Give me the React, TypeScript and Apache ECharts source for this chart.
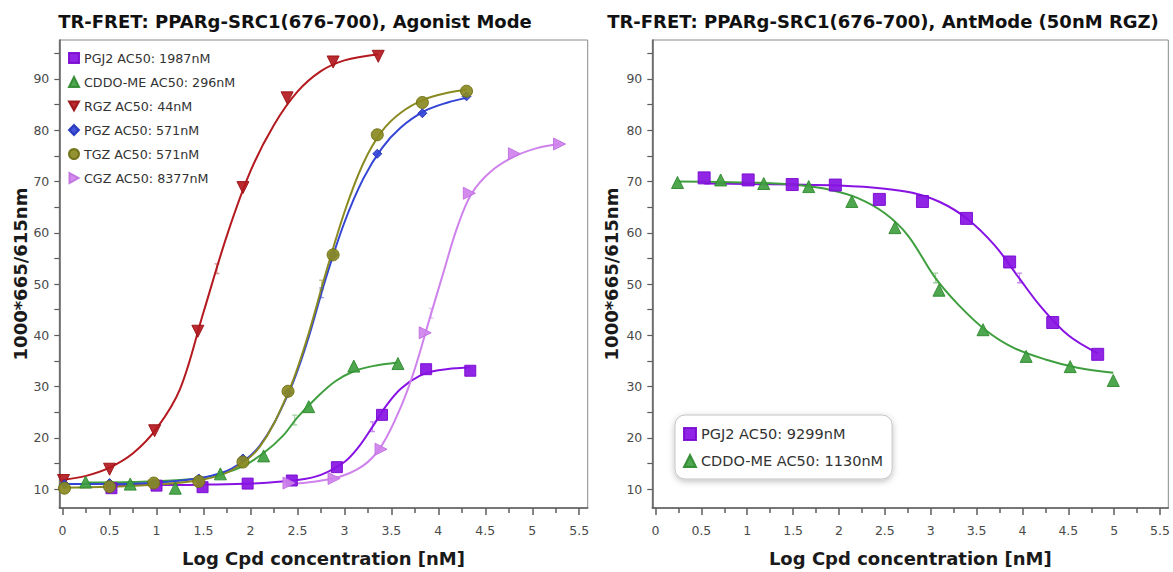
import React, { useEffect, useRef } from "react";
import * as echarts from "echarts";

const FONT = '"DejaVu Sans", "Open Sans", sans-serif';

// ---------- texts ----------
const leftTitle = "TR-FRET: PPARg-SRC1(676-700), Agonist Mode";
const rightTitle = "TR-FRET: PPARg-SRC1(676-700), AntMode (50nM RGZ)";
const xAxisTitle = "Log Cpd concentration [nM]";
const yAxisTitle = "1000*665/615nm";

// ---------- tick values ----------
const xLabelTicks = [0, 0.5, 1, 1.5, 2, 2.5, 3, 3.5, 4, 4.5, 5, 5.5];
const xMinorTicks = [0.25, 0.75, 1.25, 1.75, 2.25, 2.75, 3.25, 3.75, 4.25, 4.75, 5.25];
const yLabelTicks = [10, 20, 30, 40, 50, 60, 70, 80, 90];
const yTicks = [10, 15, 20, 25, 30, 35, 40, 45, 50, 55, 60, 65, 70, 75, 80, 85, 90, 95];

// ---------- left panel: agonist mode ----------
const leftNames = [
  "PGJ2 AC50: 1987nM",
  "CDDO-ME AC50: 296nM",
  "RGZ AC50: 44nM",
  "PGZ AC50: 571nM",
  "TGZ AC50: 571nM",
  "CGZ AC50: 8377nM",
];

const pgj2X = [0.52, 1.0, 1.49, 1.97, 2.44, 2.92, 3.4, 3.87, 4.34];
const pgj2Y = [10.2, 10.7, 10.4, 11.1, 11.7, 14.3, 24.5, 33.4, 33.1];
const cddoX = [0.245, 0.72, 1.2, 1.68, 2.14, 2.62, 3.1, 3.57];
const cddoY = [11.4, 11.0, 10.2, 13.0, 16.5, 26.1, 34.0, 34.5];
const rgzX = [0.01, 0.5, 0.98, 1.44, 1.92, 2.39, 2.88, 3.36];
const rgzY = [11.7, 13.9, 21.4, 40.8, 68.8, 86.3, 93.3, 94.4];
const pgzX = [0.02, 0.5, 0.97, 1.45, 1.92, 2.4, 2.88, 3.35, 3.83, 4.3];
const pgzY = [11.0, 11.2, 11.2, 12.1, 16.0, 28.8, 55.7, 75.4, 83.3, 86.6];
const tgzX = [0.02, 0.5, 0.97, 1.45, 1.92, 2.4, 2.88, 3.35, 3.83, 4.3];
const tgzY = [10.2, 10.5, 11.2, 11.5, 15.3, 29.1, 55.7, 79.1, 85.4, 87.6];
const cgzX = [2.41, 2.89, 3.39, 3.86, 4.33, 4.81, 5.29];
const cgzY = [11.2, 12.1, 17.8, 40.5, 67.7, 75.4, 77.3];

// fitted curves
const pgj2FitX = [0.52, 1.0, 1.5, 2.0, 2.5, 2.75, 3.0, 3.15, 3.3, 3.45, 3.6, 3.8, 4.0, 4.34];
const pgj2FitY = [10.8, 10.8, 10.9, 11.1, 11.8, 12.8, 15.3, 18.2, 22.2, 26.4, 29.6, 32.1, 33.2, 33.8];
const cddoFitX = [0.245, 0.75, 1.25, 1.6, 1.9, 2.15, 2.35, 2.5, 2.7, 2.9, 3.1, 3.3, 3.57];
const cddoFitY = [11.3, 11.4, 11.8, 12.6, 14.3, 17.2, 20.5, 24.0, 27.8, 31.0, 33.0, 34.0, 34.7];
const rgzFitX = [0.0, 0.25, 0.5, 0.75, 1.0, 1.25, 1.5, 1.75, 2.0, 2.25, 2.5, 2.75, 3.0, 3.36];
const rgzFitY = [11.8, 12.6, 14.2, 17.0, 21.8, 29.5, 44.5, 59.5, 72.0, 81.0, 87.5, 91.5, 93.6, 94.8];
const pgzFitX = [0.0, 0.5, 1.0, 1.5, 1.8, 2.1, 2.4, 2.6, 2.8, 3.0, 3.2, 3.4, 3.6, 3.85, 4.1, 4.3];
const pgzFitY = [11.0, 11.0, 11.3, 12.3, 14.0, 18.5, 28.5, 38.5, 51.0, 62.0, 70.5, 76.5, 80.5, 83.7, 85.4, 86.3];
const tgzFitX = [0.0, 0.5, 1.0, 1.5, 1.8, 2.1, 2.4, 2.6, 2.8, 3.0, 3.2, 3.4, 3.6, 3.85, 4.1, 4.3];
const tgzFitY = [10.3, 10.5, 10.9, 11.9, 13.7, 18.3, 28.8, 39.2, 52.0, 64.0, 73.5, 79.8, 83.4, 86.0, 87.3, 87.9];
const cgzFitX = [2.41, 2.9, 3.2, 3.4, 3.6, 3.75, 3.9, 4.05, 4.2, 4.35, 4.55, 4.8, 5.05, 5.29];
const cgzFitY = [11.0, 12.2, 14.6, 18.6, 26.0, 33.5, 42.8, 52.0, 61.0, 67.5, 71.8, 74.8, 76.5, 77.3];

const leftAc50X = [3.298, 2.471, 1.643, 2.757, 2.757, 3.923];
const leftAc50Y = [22.2, 23.5, 53.0, 48.3, 49.8, 44.3];

// ---------- right panel: antagonist mode ----------
const rightNames = ["PGJ2 AC50: 9299nM", "CDDO-ME AC50: 1130nM"];

const pgj2RX = [0.53, 1.01, 1.49, 1.96, 2.44, 2.91, 3.39, 3.86, 4.33, 4.82];
const pgj2RY = [70.7, 70.3, 69.4, 69.3, 66.5, 66.1, 62.8, 54.3, 42.5, 36.3];
const cddoRX = [0.24, 0.71, 1.18, 1.67, 2.14, 2.61, 3.09, 3.57, 4.04, 4.52, 4.99];
const cddoRY = [69.8, 70.3, 69.6, 69.0, 66.1, 61.0, 48.8, 41.1, 35.9, 33.9, 31.2];

const pgj2RFitX = [0.53, 1.0, 1.5, 2.0, 2.5, 2.8, 3.1, 3.4, 3.7, 3.97, 4.2, 4.5, 4.82];
const pgj2RFitY = [69.6, 69.5, 69.4, 69.2, 68.6, 67.8, 66.0, 62.7, 57.5, 51.0, 45.6, 40.0, 36.5];
const cddoRFitX = [0.24, 0.7, 1.2, 1.6, 1.9, 2.2, 2.5, 2.75, 3.05, 3.3, 3.6, 3.9, 4.25, 4.6, 4.99];
const cddoRFitY = [70.0, 69.9, 69.7, 69.2, 68.4, 66.8, 63.8, 59.5, 51.2, 46.0, 41.0, 37.6, 35.3, 33.7, 32.7];

const rightAc50X = [3.968, 3.053];
const rightAc50Y = [51.2, 51.2];

// ---------- styles ----------
const leftColors = ["#8712e3", "#3f9f3f", "#b3191e", "#3344d6", "#8a8a22", "#cf82ec"];
const leftBorders = ["#7a0ad0", "#2f8a2f", "#9a1015", "#2233bb", "#6e6e12", "#c070e0"];
const leftSymbols = [
  "rect",
  "triangle",
  "path://M0,0L10,0L5,9Z",
  "diamond",
  "circle",
  "path://M0,0L9,5L0,10Z",
];
const leftSizes = [11, 12, 12, 9, 12, 12];
const rightColors = ["#8712e3", "#3f9f3f"];
const rightBorders = ["#7a0ad0", "#2f8a2f"];
const rightSymbols = ["rect", "triangle"];

const IBEAM = "path://M0,0H6V1.2H3.6V8.8H6V10H0V8.8H2.4V1.2H0Z";

const zip = (xs: number[], ys: number[]) => xs.map((x, i) => [x, ys[i]]);

function buildOption() {
  const leftData = [
    [pgj2X, pgj2Y, pgj2FitX, pgj2FitY],
    [cddoX, cddoY, cddoFitX, cddoFitY],
    [rgzX, rgzY, rgzFitX, rgzFitY],
    [pgzX, pgzY, pgzFitX, pgzFitY],
    [tgzX, tgzY, tgzFitX, tgzFitY],
    [cgzX, cgzY, cgzFitX, cgzFitY],
  ];
  const rightData = [
    [pgj2RX, pgj2RY, pgj2RFitX, pgj2RFitY],
    [cddoRX, cddoRY, cddoRFitX, cddoRFitY],
  ];

  const series: any[] = [];
  const addPanel = (
    data: number[][][],
    names: string[],
    colors: string[],
    borders: string[],
    symbols: string[],
    sizes: number[],
    xIdx: number,
    yIdx: number,
    acX: number[],
    acY: number[]
  ) => {
    data.forEach((d, i) => {
      series.push({
        type: "line",
        name: names[i] + " fit",
        xAxisIndex: xIdx,
        yAxisIndex: yIdx,
        data: zip(d[2], d[3]),
        showSymbol: false,
        smooth: 0.35,
        silent: true,
        z: 2,
        lineStyle: { color: colors[i], width: 2 },
      });
    });
    series.push({
      type: "scatter",
      name: "ac50",
      xAxisIndex: xIdx,
      yAxisIndex: yIdx,
      symbol: IBEAM,
      symbolSize: [5, 11],
      silent: true,
      z: 3,
      data: acX.map((x, i) => ({
        value: [x, acY[i]],
        itemStyle: { color: colors[i], opacity: 0.5 },
      })),
    });
    data.forEach((d, i) => {
      series.push({
        type: "scatter",
        name: names[i],
        xAxisIndex: xIdx,
        yAxisIndex: yIdx,
        data: zip(d[0], d[1]),
        symbol: symbols[i],
        symbolSize: sizes[i],
        z: 4,
        itemStyle: { color: colors[i], borderColor: borders[i], borderWidth: 1, opacity: 0.92 },
      });
    });
  };

  addPanel(leftData, leftNames, leftColors, leftBorders, leftSymbols, leftSizes, 0, 0, leftAc50X, leftAc50Y);
  addPanel(rightData, rightNames, rightColors, rightBorders, rightSymbols, [12, 12], 2, 1, rightAc50X, rightAc50Y);

  const xMin = -0.035;
  const xMax = 5.59;
  const yMin = 6.34;
  const yMax = 97.58;

  const boldName = { fontFamily: FONT, fontSize: 18, fontWeight: "bold", color: "#1a1a1a" };

  const mainX = (gridIndex: number) => ({
    type: "value",
    gridIndex,
    min: xMin,
    max: xMax,
    position: "bottom",
    name: xAxisTitle,
    nameLocation: "middle",
    nameGap: 41,
    nameTextStyle: boldName,
    axisLine: { show: true, onZero: false, lineStyle: { color: "#5c5c5c", width: 1.5 } },
    axisTick: { show: true, length: 7, customValues: xLabelTicks, lineStyle: { color: "#5c5c5c", width: 1.5 } },
    axisLabel: {
      show: true,
      customValues: xLabelTicks,
      margin: 16,
      fontFamily: FONT,
      fontSize: 12.5,
      color: "#4a4a4a",
      formatter: (v: number) => String(v),
    },
    splitLine: { show: false },
  });
  const minorX = (gridIndex: number) => ({
    type: "value",
    gridIndex,
    min: xMin,
    max: xMax,
    position: "bottom",
    axisLine: { show: false, onZero: false },
    axisTick: { show: true, length: 5, customValues: xMinorTicks, lineStyle: { color: "#5c5c5c", width: 1.5 } },
    axisLabel: { show: false },
    splitLine: { show: false },
  });
  const mainY = (gridIndex: number, nameGap: number) => ({
    type: "value",
    gridIndex,
    min: yMin,
    max: yMax,
    position: "left",
    name: yAxisTitle,
    nameLocation: "middle",
    nameGap,
    nameTextStyle: boldName,
    axisLine: { show: true, onZero: false, lineStyle: { color: "#5c5c5c", width: 1.5 } },
    axisTick: { show: true, length: 5, customValues: yTicks, lineStyle: { color: "#5c5c5c", width: 1.2 } },
    axisLabel: {
      show: true,
      customValues: yLabelTicks,
      margin: 10,
      fontFamily: FONT,
      fontSize: 12.5,
      color: "#4a4a4a",
    },
    splitLine: { show: false },
  });

  const titleText = (text: string, x: number) => ({
    type: "text",
    x,
    y: 21,
    style: {
      text,
      fill: "#111",
      fontFamily: FONT,
      fontSize: 18,
      fontWeight: "bold",
      align: "center",
      verticalAlign: "middle",
      textAlign: "center",
      textVerticalAlign: "middle",
    },
  });

  return {
    animation: false,
    backgroundColor: "#ffffff",
    textStyle: { fontFamily: FONT },
    grid: [
      { left: 59.3, top: 40, width: 528.4, height: 473.3, show: true, borderColor: "#8a8a8a", borderWidth: 1 },
      { left: 652.3, top: 40, width: 518.7, height: 473.3, show: true, borderColor: "#8a8a8a", borderWidth: 1 },
    ],
    xAxis: [mainX(0), minorX(0), mainX(1), minorX(1)],
    yAxis: [mainY(0, 30), mainY(1, 32)],
    legend: [
      {
        orient: "vertical",
        left: 63,
        top: 45,
        itemWidth: 10,
        itemHeight: 10,
        itemGap: 8,
        selectedMode: false,
        padding: [5, 8, 5, 5],
        textStyle: { fontFamily: FONT, fontSize: 12.7, color: "#333", lineHeight: 16 },
        data: leftNames.map((n, i) => ({ name: n, icon: leftSymbols[i] })),
      },
      {
        orient: "vertical",
        left: 675,
        top: 415,
        itemWidth: 12,
        itemHeight: 12,
        itemGap: 9,
        selectedMode: false,
        padding: [10, 9, 9, 8],
        backgroundColor: "#ffffff",
        borderColor: "#c4c4c4",
        borderWidth: 1,
        borderRadius: 10,
        shadowBlur: 6,
        shadowColor: "rgba(0,0,0,0.25)",
        shadowOffsetY: 2,
        textStyle: { fontFamily: FONT, fontSize: 14.5, color: "#333", lineHeight: 18 },
        data: rightNames.map((n, i) => ({ name: n, icon: rightSymbols[i] })),
      },
    ],
    graphic: [titleText(leftTitle, 295), titleText(rightTitle, 883)],
    series,
  };
}

export default function App() {
  const ref = useRef<HTMLDivElement>(null);
  useEffect(() => {
    if (!ref.current) return;
    const chart = echarts.init(ref.current, undefined, { renderer: "svg" });
    chart.setOption(buildOption() as any);
    return () => chart.dispose();
  }, []);
  return (
    <div
      ref={ref}
      style={{ position: "absolute", left: 0, top: 0, width: 1173, height: 572, background: "#fff" }}
    />
  );
}
